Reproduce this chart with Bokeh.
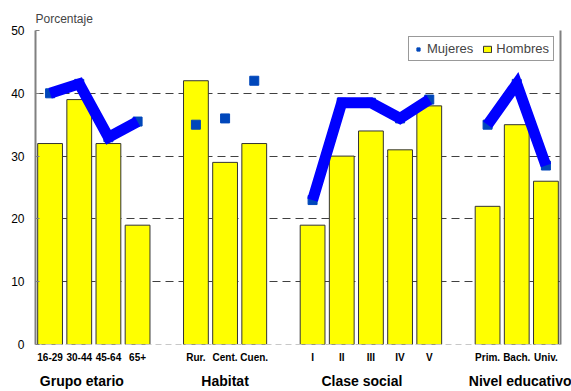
from bokeh.plotting import figure
from bokeh.models import (Range1d, Legend, LegendItem, LinearAxis,
                          ColumnDataSource, FixedTicker)
from bokeh.embed import file_html
from bokeh.resources import INLINE

# ---------------- data ----------------
groups = ["Grupo etario", "Habitat", "Clase social", "Nivel educativo"]
categories = [
    ["16-29", "30-44", "45-64", "65+"],
    ["Rur.", "Cent.", "Cuen."],
    ["I", "II", "III", "IV", "V"],
    ["Prim.", "Bach.", "Univ."],
]
hombres = [32, 39, 32, 19, 42, 29, 32, 19, 30, 34, 31, 38, 22, 35, 26]
mujeres = [40, 41.5, 33, 35.5, 35, 36, 42, 23, 38.5, 38.5, 36, 39, 35, 41.5, 28.5]
groups_with_line = ["Grupo etario", "Clase social", "Nivel educativo"]
y_ticks = [0, 10, 20, 30, 40, 50]

FONT = "Liberation Sans"
GAP = 1.0                       # empty slot between groups
FRAME_W = 525
# horizontal nudge (px) of each group title relative to its group's centre
group_label_nudge = [-12, 0, -9, 4]

n_slots = sum(len(c) for c in categories) + GAP * (len(groups) - 1)
slot_px = FRAME_W / n_slots

# slot positions of categories (a gap slot between groups) and group titles
cat_pos, cat_lab, grp_pos, grp_slices = [], [], [], []
start = 0.0
i0 = 0
for g, cats, nudge in zip(groups, categories, group_label_nudge):
    for j, c in enumerate(cats):
        cat_pos.append(round(start + j + 0.5, 4))
        cat_lab.append(c)
    grp_pos.append(round(start + len(cats) / 2.0 + nudge / slot_px, 4))
    grp_slices.append((g, i0, i0 + len(cats)))
    i0 += len(cats)
    start += len(cats) + GAP

src = ColumnDataSource(dict(x=cat_pos, cat=cat_lab, hombres=hombres,
                            mujeres=mujeres))

p = figure(
    x_range=Range1d(0, n_slots),
    y_range=Range1d(0, 50),
    width=571, height=391,
    output_backend="svg", toolbar_location=None,
    x_axis_location=None,
    min_border_left=35, min_border_right=11,
    min_border_top=30, min_border_bottom=47,
)
p.outline_line_color = None
p.background_fill_color = "white"

p.title.text = "Porcentaje"
p.title.text_font = FONT
p.title.text_font_size = "12px"
p.title.text_font_style = "normal"
p.title.align = "left"
p.title.standoff = 9
p.title.offset = 0

p.xgrid.visible = False
p.ygrid.ticker = y_ticks
p.ygrid.grid_line_color = "#404040"
p.ygrid.grid_line_dash = "8 5"
p.ygrid.grid_line_width = 1

p.yaxis.ticker = y_ticks
p.yaxis.major_label_text_font = FONT
p.yaxis.major_label_text_font_size = "12px"
p.yaxis.major_label_text_color = "black"
p.yaxis.axis_line_color = "#808080"
p.yaxis.axis_line_width = 2
p.yaxis.major_tick_in = 4
p.yaxis.major_tick_out = 0
p.yaxis.major_tick_line_color = "#808080"
p.yaxis.minor_tick_line_color = None
p.yaxis.major_label_standoff = 11

# x axis: category labels
xa = LinearAxis(ticker=FixedTicker(ticks=cat_pos),
                major_label_overrides={t: l for t, l in zip(cat_pos, cat_lab)})
xa.major_label_text_font = FONT
xa.major_label_text_font_size = "10px"
xa.major_label_text_font_style = "bold"
xa.major_label_text_color = "black"
xa.major_label_standoff = 7
xa.major_tick_in = 0
xa.major_tick_out = 0
xa.major_tick_line_color = None
xa.minor_tick_line_color = None
xa.axis_line_color = "#c8c8c8"
xa.axis_line_dash = "6 4"
p.add_layout(xa, "below")

# second x axis: group titles
ga = LinearAxis(ticker=FixedTicker(ticks=grp_pos),
                major_label_overrides={t: g for t, g in zip(grp_pos, groups)})
ga.major_label_text_font = FONT
ga.major_label_text_font_size = "14px"
ga.major_label_text_font_style = "bold"
ga.major_label_text_color = "black"
ga.major_label_standoff = 7
ga.major_tick_in = 0
ga.major_tick_out = 0
ga.major_tick_line_color = None
ga.minor_tick_line_color = None
ga.axis_line_color = None
p.add_layout(ga, "below")

# right border
ra = LinearAxis(ticker=FixedTicker(ticks=[]), major_tick_line_color=None,
                minor_tick_line_color=None, axis_line_color="#808080",
                axis_line_width=2)
p.add_layout(ra, "right")

bars = p.vbar(x="x", top="hombres", width=0.85, source=src,
              fill_color="#FFFF00", line_color="#333333", line_width=1)

sc = p.scatter(x="x", y="mujeres", source=src, marker="square", size=9,
               fill_color="#0047BB", line_color="#0047BB")

for g, a, b in grp_slices:
    if g in groups_with_line:
        p.line(cat_pos[a:b], mujeres[a:b], line_width=11, line_color="#0000FF",
               line_join="miter", line_cap="butt")

legend = Legend(items=[LegendItem(label="Mujeres", renderers=[sc]),
                       LegendItem(label="Hombres", renderers=[bars])],
                orientation="horizontal", location="top_right")
legend.label_text_font = FONT
legend.label_text_font_size = "13px"
legend.label_standoff = 4
legend.glyph_width = 10
legend.glyph_height = 8
legend.spacing = 9
legend.padding = 4
legend.margin = 6
legend.border_line_color = "#333333"
legend.border_line_width = 1
legend.background_fill_alpha = 1
p.add_layout(legend)

open("out.html", "w").write(file_html(p, INLINE))
